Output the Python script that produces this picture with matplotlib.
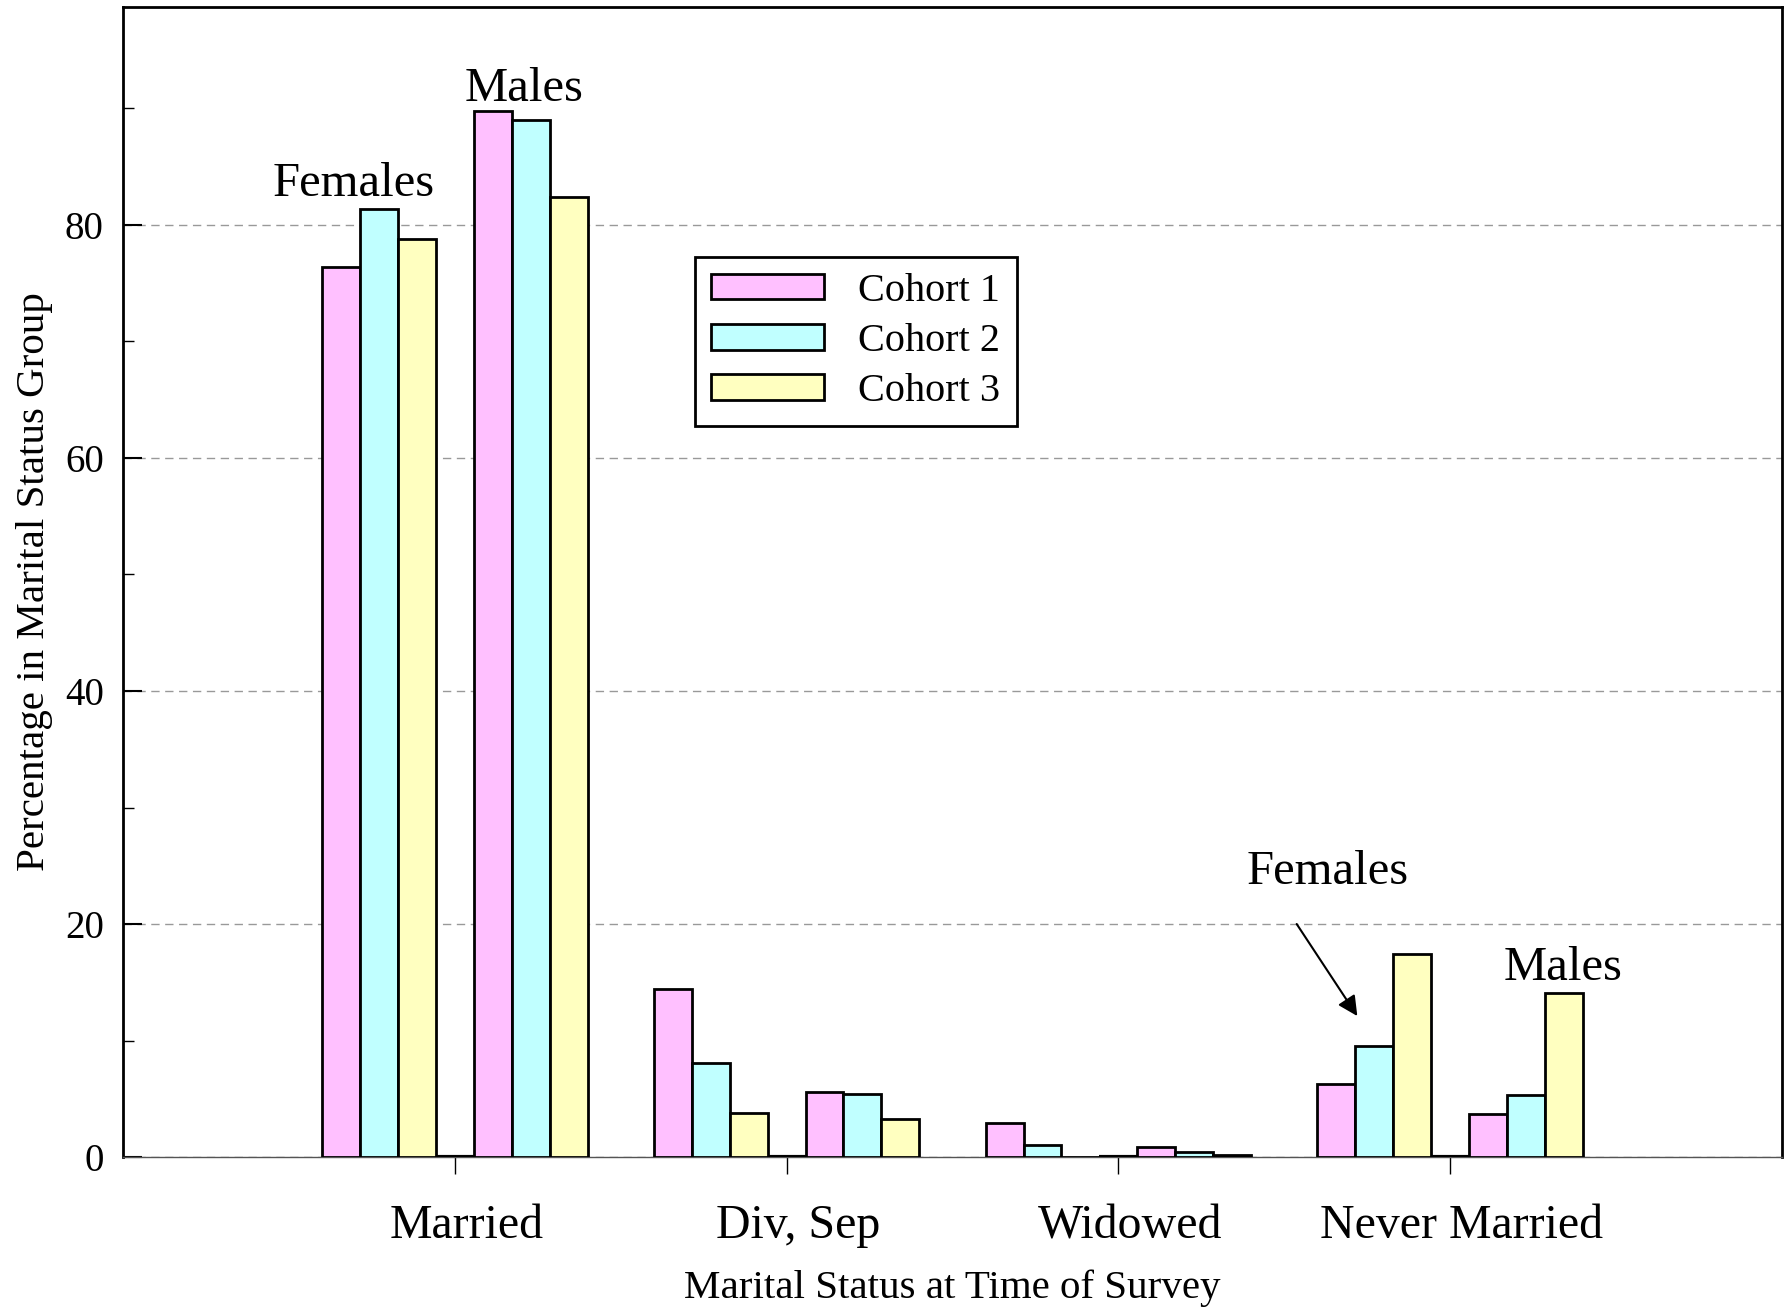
import matplotlib.pyplot as plt
import numpy as np
from matplotlib.ticker import MultipleLocator

plt.rcParams["font.family"] = ["Liberation Serif", "DejaVu Serif"]

# Данные (проценты)
categories = ["Married", "Div, Sep", "Widowed", "Never Married"]
cohorts = ["Cohort 1", "Cohort 2", "Cohort 3"]
females = [
    [76.4, 14.4, 2.9, 6.3],   # Cohort 1
    [81.4, 8.1, 1.0, 9.5],    # Cohort 2
    [78.8, 3.8, 0.0, 17.4],   # Cohort 3
]
males = [
    [89.8, 5.6, 0.9, 3.7],
    [89.0, 5.4, 0.4, 5.3],
    [82.4, 3.3, 0.2, 14.1],
]
colors = ["#ffc0ff", "#c0ffff", "#ffffc0"]

fig = plt.figure(figsize=(17.89, 13.08), dpi=100)
ax = fig.add_axes([0.0688, 0.1154, 0.9272, 0.8792])

x = np.arange(1, len(categories) + 1)
slot = 0.8 / 7

for i in range(len(cohorts)):
    ax.bar(x + (i - 3.5) * slot, females[i], width=slot, align="edge",
           color=colors[i], edgecolor="black", linewidth=2.0,
           label=cohorts[i], zorder=3)
    ax.bar(x + (i + 0.5) * slot, males[i], width=slot, align="edge",
           color=colors[i], edgecolor="black", linewidth=2.0, zorder=3)

# разделитель между группами женщин и мужчин
ax.bar(x, np.zeros(len(categories)), width=slot,
       color="white", edgecolor="black", linewidth=3.0, zorder=3)

ax.set_xlim(0, 5)
ax.set_ylim(0, 98.7)

# метки категорий чуть правее засечек, как в оригинале
ax.set_xticks(x)
ax.set_xticklabels([])
ax.set_xticks(x + 0.035, minor=True)
ax.set_xticklabels(categories, minor=True, fontsize=34.5)
ax.tick_params(axis="x", which="major", direction="out", length=12, width=1.0)
ax.tick_params(axis="x", which="minor", length=0, pad=34)

ax.yaxis.set_major_locator(MultipleLocator(20))
ax.yaxis.set_minor_locator(MultipleLocator(10))
ax.tick_params(axis="y", which="major", direction="in", length=14, width=1.5,
               labelsize=28, pad=14)
ax.tick_params(axis="y", which="minor", direction="in", length=8, width=1.0)

ax.grid(axis="y", which="major", color="#999999", linestyle=(0, (6, 4)),
        linewidth=1.0, zorder=0)

for side in ["top", "left", "right"]:
    ax.spines[side].set_linewidth(2.0)
ax.spines["bottom"].set_linewidth(1.0)
ax.spines["bottom"].set_color("#555555")

ax.set_xlabel("Marital Status at Time of Survey", fontsize=29.5, labelpad=15)
ax.set_ylabel("Percentage in Marital Status Group", fontsize=29.5)
ax.yaxis.set_label_coords(-0.042, 0.5)

ax.text(0.694, 83.5, "Females", fontsize=35, ha="center", va="center")
ax.text(1.21, 91.7, "Males", fontsize=35, ha="center", va="center")
ax.text(3.632, 24.5, "Females", fontsize=35, ha="center", va="center")
ax.text(4.34, 16.2, "Males", fontsize=35, ha="center", va="center")
ax.annotate("", xy=(3.725, 11.9), xytext=(3.533, 20.2),
            arrowprops=dict(arrowstyle="-|>", color="black", lw=1.5,
                            mutation_scale=30))

leg = ax.legend(loc="upper left", bbox_to_anchor=(0.345, 0.783), fontsize=29,
                handlelength=2.8, handleheight=0.6, handletextpad=0.85,
                labelspacing=0.33, borderpad=0.4, borderaxespad=0,
                fancybox=False, framealpha=1, edgecolor="black")
leg.get_frame().set_linewidth(2.0)

fig.savefig("out.png", dpi=100)
